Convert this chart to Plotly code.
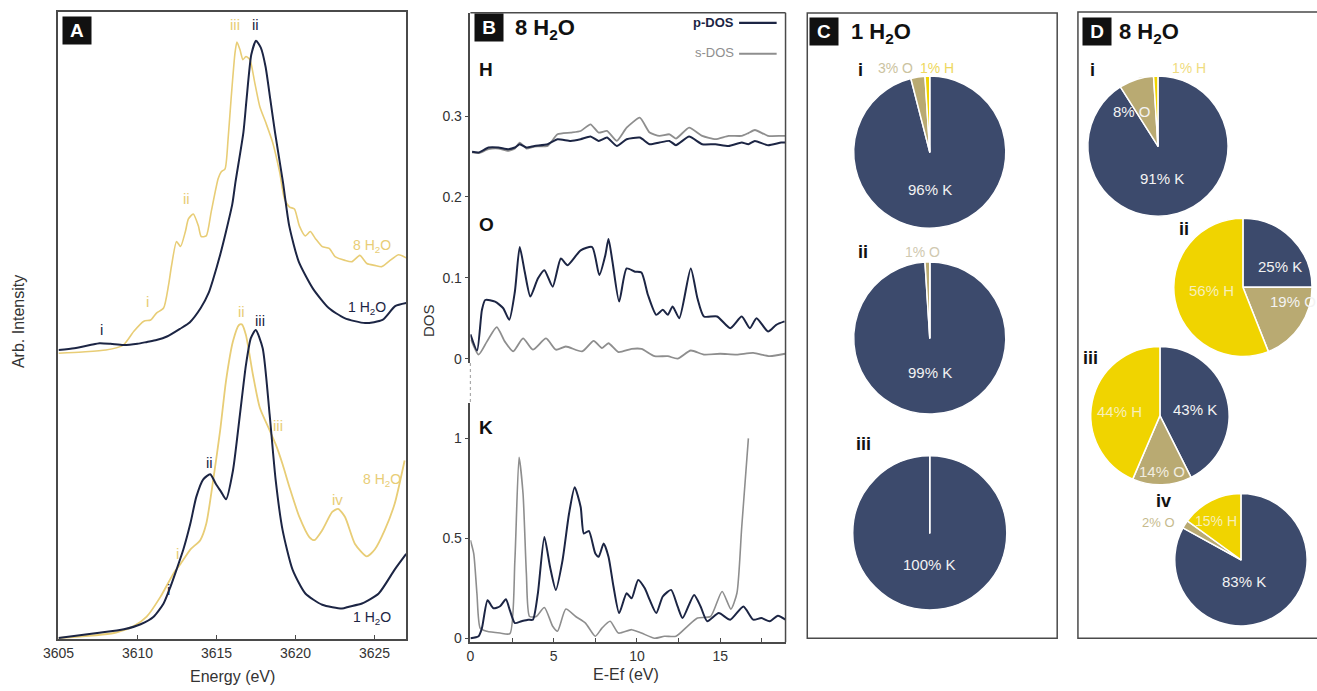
import plotly.graph_objects as go

W, H = 1317, 691

# ---------------- Panel A : K K-edge XAS (arb. units, offset curves) ----------------
energy_1h2o_top = [3605.0, 3606.0, 3607.0, 3607.6, 3608.3, 3609.1, 3610.0, 3610.6, 3611.2, 3611.9,
                   3612.7, 3613.3, 3614.0, 3614.5, 3614.8, 3615.2, 3615.6, 3616.0, 3616.2, 3616.7,
                   3616.9, 3617.2, 3617.5, 3617.8, 3618.1, 3618.4, 3618.7, 3619.2, 3619.6, 3620.2,
                   3621.1, 3622.1, 3623.1, 3624.4, 3625.5, 3626.3, 3627.0]
intens_1h2o_top = [0.461, 0.464, 0.469, 0.472, 0.471, 0.469, 0.471, 0.474, 0.477, 0.483,
                   0.495, 0.505, 0.528, 0.552, 0.575, 0.610, 0.650, 0.694, 0.729, 0.808,
                   0.861, 0.932, 0.954, 0.943, 0.913, 0.861, 0.808, 0.729, 0.659, 0.602,
                   0.559, 0.528, 0.512, 0.504, 0.509, 0.531, 0.536]

energy_8h2o_top = [3605.0, 3606.5, 3608.0, 3609.1, 3609.77, 3610.4, 3610.83, 3611.2, 3611.65, 3611.96,
                   3612.15, 3612.47, 3612.72, 3613.03, 3613.22, 3613.53, 3613.85, 3614.03, 3614.35, 3614.66,
                   3615.1, 3615.29, 3615.54, 3615.73, 3615.92, 3616.17, 3616.29, 3616.48, 3616.67, 3616.86,
                   3617.11, 3617.42, 3617.74, 3618.11, 3618.55, 3618.99, 3619.30, 3619.62, 3619.93, 3620.24,
                   3620.62, 3620.93, 3621.25, 3621.69, 3622.13, 3622.5, 3623.13, 3623.57, 3624.07, 3624.51,
                   3625.01, 3625.45, 3625.89, 3626.52, 3627.0]
intens_8h2o_top = [0.456, 0.458, 0.461, 0.469, 0.491, 0.507, 0.509, 0.520, 0.528, 0.564,
                   0.595, 0.634, 0.626, 0.650, 0.670, 0.678, 0.659, 0.642, 0.643, 0.681,
                   0.734, 0.745, 0.750, 0.797, 0.861, 0.935, 0.952, 0.940, 0.924, 0.929,
                   0.924, 0.887, 0.849, 0.824, 0.792, 0.745, 0.702, 0.689, 0.686, 0.659,
                   0.643, 0.650, 0.639, 0.626, 0.623, 0.610, 0.604, 0.602, 0.612, 0.599,
                   0.596, 0.594, 0.602, 0.613, 0.608]

energy_1h2o_bot = [3605.0, 3607.45, 3609.14, 3610.2, 3611.02, 3611.65, 3612.09, 3612.47, 3612.9, 3613.34,
                   3613.72, 3614.16, 3614.6, 3614.97, 3615.29, 3615.6, 3616.04, 3616.48, 3616.86, 3617.17,
                   3617.48, 3617.92, 3618.36, 3618.74, 3619.18, 3619.81, 3620.62, 3621.69, 3622.94, 3623.38,
                   3624.2, 3625.26, 3626.27, 3627.0]
intens_1h2o_bot = [0.002, 0.010, 0.016, 0.024, 0.036, 0.057, 0.084, 0.111, 0.143, 0.184,
                   0.227, 0.255, 0.263, 0.247, 0.235, 0.223, 0.269, 0.358, 0.437, 0.480,
                   0.493, 0.464, 0.358, 0.254, 0.174, 0.111, 0.073, 0.055, 0.049, 0.052,
                   0.057, 0.073, 0.111, 0.136]

energy_8h2o_bot = [3605.0, 3608.51, 3609.77, 3610.58, 3611.46, 3612.28, 3612.72, 3613.34, 3613.97, 3614.35,
                   3614.79, 3615.23, 3615.6, 3616.04, 3616.42, 3616.6, 3616.86, 3617.3, 3617.74, 3618.36,
                   3618.74, 3619.18, 3619.62, 3620.24, 3620.87, 3621.19, 3621.69, 3622.32, 3622.69, 3623.13,
                   3623.76, 3624.51, 3625.01, 3625.64, 3626.27, 3626.9]
intens_8h2o_bot = [0.002, 0.010, 0.021, 0.036, 0.068, 0.105, 0.120, 0.143, 0.158, 0.184,
                   0.254, 0.333, 0.412, 0.475, 0.501, 0.502, 0.485, 0.422, 0.369, 0.333,
                   0.311, 0.279, 0.242, 0.195, 0.163, 0.158, 0.174, 0.203, 0.208, 0.195,
                   0.152, 0.132, 0.143, 0.174, 0.216, 0.285]

energy_ticks = [3605, 3610, 3615, 3620, 3625]

# ---------------- Panel B : projected DOS, 8 H2O ----------------
e_H = [0.1, 0.49, 1.09, 1.68, 2.27, 2.67, 2.96, 3.36, 3.85, 4.64, 5.23, 6.02, 6.62, 7.21, 7.70,
       8.20, 8.79, 9.38, 10.17, 10.76, 11.35, 11.95, 12.34, 13.13, 13.92, 14.71, 15.5, 16.29, 16.69,
       17.08, 17.87, 18.66, 18.92]
H_pdos = [0.2558, 0.2550, 0.2611, 0.2611, 0.2591, 0.2611, 0.2652, 0.2611, 0.2631, 0.2652, 0.2714,
          0.2693, 0.2714, 0.2747, 0.2693, 0.2734, 0.2631, 0.2714, 0.2734, 0.2652, 0.2673, 0.2693,
          0.2640, 0.2747, 0.2652, 0.2652, 0.2631, 0.2673, 0.2652, 0.2693, 0.2640, 0.2673, 0.2673]
H_sdos = [0.2550, 0.2541, 0.2591, 0.2599, 0.2570, 0.2599, 0.2673, 0.2599, 0.2624, 0.2632, 0.2775,
          0.2796, 0.2816, 0.2898, 0.2796, 0.2816, 0.2693, 0.2857, 0.2980, 0.2796, 0.2755, 0.2775,
          0.2722, 0.2857, 0.2755, 0.2714, 0.2755, 0.2755, 0.2790, 0.2828, 0.2755, 0.2755, 0.2755]

e_O_p = [0.0, 0.4, 0.69, 0.89, 1.48, 1.97, 2.33, 2.67, 2.96, 3.26, 3.60, 4.05, 4.44, 4.94, 5.43,
         5.83, 6.62, 7.31, 7.74, 8.10, 8.29, 8.53, 8.93, 9.38, 9.88, 10.27, 10.66, 11.16, 11.55,
         11.85, 12.14, 12.54, 13.23, 13.63, 14.02, 14.81, 15.6, 16.29, 16.78, 17.18, 17.87, 18.36,
         18.86]
O_pdos = [0.030, 0.010, 0.060, 0.0725, 0.0705, 0.0623, 0.048, 0.083, 0.138, 0.1075, 0.0767,
          0.099, 0.1094, 0.089, 0.1238, 0.1156, 0.134, 0.138, 0.1033, 0.1279, 0.148, 0.1198,
          0.0705, 0.1115, 0.1075, 0.1066, 0.0787, 0.0541, 0.0603, 0.0541, 0.0644, 0.050, 0.1115,
          0.0746, 0.0521, 0.0521, 0.0377, 0.0521, 0.0377, 0.050, 0.0336, 0.0418, 0.046]
e_O_s = [0.04, 0.49, 0.99, 1.58, 2.07, 2.57, 3.16, 3.75, 4.54, 5.13, 5.73, 6.71, 7.4, 7.9, 8.29,
         8.89, 9.68, 10.27, 11.06, 11.85, 12.44, 13.23, 14.02, 15.0, 15.99, 16.98, 17.97, 18.9]
O_sdos = [0.0234, 0.005, 0.021, 0.039, 0.021, 0.009, 0.025, 0.011, 0.025, 0.011, 0.015, 0.009,
          0.022, 0.013, 0.019, 0.008, 0.012, 0.012, 0.003, 0.003, 0.0, 0.010, 0.005, 0.006, 0.005,
          0.007, 0.003, 0.006]

e_K_p = [0.0, 0.49, 0.69, 1.03, 1.38, 1.78, 2.13, 2.37, 2.67, 3.06, 3.46, 3.75, 4.05, 4.44, 4.78,
         5.13, 5.53, 5.92, 6.26, 6.62, 6.81, 7.11, 7.5, 7.7, 8.0, 8.29, 8.59, 8.93, 9.38, 9.68,
         10.07, 10.47, 10.76, 11.16, 11.55, 12.05, 12.44, 12.74, 13.43, 13.82, 14.22, 14.91, 15.6,
         16.39, 16.98, 17.47, 17.97, 18.46, 18.92]
K_pdos = [0.0, 0.01, 0.05, 0.19, 0.15, 0.16, 0.195, 0.14, 0.076, 0.085, 0.093, 0.093, 0.225, 0.507,
          0.358, 0.242, 0.39, 0.623, 0.756, 0.657, 0.524, 0.537, 0.424, 0.408, 0.474, 0.408, 0.259,
          0.126, 0.225, 0.200, 0.292, 0.250, 0.193, 0.126, 0.209, 0.242, 0.159, 0.101, 0.217, 0.159,
          0.085, 0.126, 0.093, 0.159, 0.093, 0.101, 0.085, 0.113, 0.093]
e_K_s = [0.0, 0.2, 0.39, 0.59, 0.99, 1.78, 2.37, 2.67, 2.92, 3.16, 3.36, 3.55, 3.95, 4.44, 4.94,
         5.23, 5.73, 6.32, 6.91, 7.5, 7.9, 8.39, 8.89, 9.68, 10.27, 11.06, 11.65, 12.34, 13.03,
         13.63, 14.42, 15.11, 15.64, 16.0, 16.29, 16.69]
K_sdos = [0.491, 0.424, 0.225, 0.050, 0.035, 0.026, 0.023, 0.390, 0.905, 0.723, 0.325, 0.109,
          0.109, 0.154, 0.060, 0.035, 0.146, 0.109, 0.076, 0.010, 0.051, 0.085, 0.026, 0.043,
          0.026, 0.0, 0.010, 0.010, 0.060, 0.101, 0.109, 0.234, 0.146, 0.225, 0.557, 1.0]

# ---------------- Panels C, D : atomic contributions (%) ----------------
elements = ["K", "O", "H"]
c_i = [96, 3, 1]
c_ii = [99, 1, 0]
c_iii = [100, 0, 0]
d_i = [91, 8, 1]
d_ii = [25, 19, 56]
d_iii = [43, 14, 44]
d_iv = [83, 2, 15]

# ---------------- styling ----------------
NAVY = "#1c2544"
GOLD = "#e8cd76"
GRAY = "#8e8e8e"
PIE_COL = {"K": "#3c4a6c", "O": "#b9aa72", "H": "#f0d400"}
FONT = "Liberation Sans, Arial, sans-serif"
FRAME = "#4a4a4a"


def px(x):
    return x / W


def py(y):
    return 1 - y / H


fig = go.Figure()

# Panel A traces
for e, v, c, w in [(energy_8h2o_top, intens_8h2o_top, GOLD, 1.6),
                   (energy_1h2o_top, intens_1h2o_top, NAVY, 2.0),
                   (energy_8h2o_bot, intens_8h2o_bot, GOLD, 1.8),
                   (energy_1h2o_bot, intens_1h2o_bot, NAVY, 2.0)]:
    fig.add_trace(go.Scatter(x=e, y=v, mode="lines", line=dict(color=c, width=w, shape="spline", smoothing=0.6),
                             xaxis="x", yaxis="y", showlegend=False, hoverinfo="skip"))

# Panel B traces
fig.add_trace(go.Scatter(x=e_H, y=H_sdos, mode="lines", line=dict(color=GRAY, width=1.8, shape="spline", smoothing=0.5),
                         xaxis="x2", yaxis="y2", showlegend=False))
fig.add_trace(go.Scatter(x=e_H, y=H_pdos, mode="lines", line=dict(color=NAVY, width=2, shape="spline", smoothing=0.5),
                         xaxis="x2", yaxis="y2", showlegend=False))
fig.add_trace(go.Scatter(x=e_O_s, y=O_sdos, mode="lines", line=dict(color=GRAY, width=1.8, shape="spline", smoothing=0.6),
                         xaxis="x2", yaxis="y2", showlegend=False))
fig.add_trace(go.Scatter(x=e_O_p, y=O_pdos, mode="lines", line=dict(color=NAVY, width=2, shape="spline", smoothing=0.6),
                         xaxis="x2", yaxis="y2", showlegend=False))
fig.add_trace(go.Scatter(x=e_K_s, y=K_sdos, mode="lines", line=dict(color=GRAY, width=1.6, shape="spline", smoothing=0.6),
                         xaxis="x3", yaxis="y3", showlegend=False))
fig.add_trace(go.Scatter(x=e_K_p, y=K_pdos, mode="lines", line=dict(color=NAVY, width=2, shape="spline", smoothing=0.6),
                         xaxis="x3", yaxis="y3", showlegend=False))

# Pies
pie_specs = [(c_i, 925, 153, 77), (c_ii, 925, 340, 77), (c_iii, 925, 536, 78),
             (d_i, 1156, 147, 71), (d_ii, 1242, 289, 70), (d_iii, 1158, 418, 70), (d_iv, 1240, 563, 67)]
for vals, cx, cy, r in pie_specs:
    fig.add_trace(go.Pie(values=vals, labels=elements, sort=False, direction="clockwise", rotation=0,
                         marker=dict(colors=[PIE_COL[e] for e in elements], line=dict(color="white", width=1.5)),
                         textinfo="none", hoverinfo="skip", showlegend=False,
                         domain=dict(x=[px(cx - r), px(cx + r)], y=[py(cy + r), py(cy - r)])))

axis_common = dict(showgrid=False, zeroline=False)
tickfont = dict(family=FONT, size=14, color="#333")

fig.update_layout(
    width=W, height=H, margin=dict(l=0, r=0, t=0, b=0),
    paper_bgcolor="white", plot_bgcolor="white",
    xaxis=dict(domain=[px(43), px(395)], range=[3605, 3627], tickvals=energy_ticks,
               ticks="inside", ticklen=5, tickcolor=FRAME, showline=True, mirror=True, linecolor=FRAME,
               linewidth=1.5, tickfont=tickfont, anchor="y", **axis_common),
    yaxis=dict(domain=[py(643), py(12)], range=[0, 1], showticklabels=False, ticks="",
               showline=True, mirror=True, linecolor=FRAME, linewidth=1.5, anchor="x", **axis_common),
    xaxis2=dict(domain=[px(460), px(779)], range=[0, 18.92], visible=False, anchor="y2", **axis_common),
    yaxis2=dict(domain=[py(365), py(12.7)], range=[-0.0053, 0.428], tickvals=[0, 0.1, 0.2, 0.3],
                ticktext=["0", "0.1", "0.2", "0.3"], ticks="outside", ticklen=4, tickcolor=FRAME,
                showline=True, linecolor=FRAME, linewidth=1.5, tickfont=tickfont, anchor="x2", **axis_common),
    xaxis3=dict(domain=[px(460), px(779)], range=[0, 18.92], tickvals=[0, 5, 10, 15], ticks="inside",
                ticklen=5, tickcolor=FRAME, minor=dict(dtick=2.5, ticks="inside", ticklen=5, tickcolor=FRAME),
                showline=True, linecolor=FRAME, linewidth=1.5, tickfont=tickfont, anchor="y3", **axis_common),
    yaxis3=dict(domain=[py(646), py(405)], range=[-0.02, 1.179], tickvals=[0, 0.5, 1],
                ticktext=["0", "0.5", "1"], ticks="outside", ticklen=4, tickcolor=FRAME,
                showline=True, linecolor=FRAME, linewidth=1.5, tickfont=tickfont, anchor="x3", **axis_common),
)

shapes = []
# Panel B frame parts
shapes.append(dict(type="line", xref="paper", yref="paper", x0=px(460), x1=px(779), y0=py(12.7), y1=py(12.7),
                   line=dict(color=FRAME, width=1.5)))
shapes.append(dict(type="line", xref="paper", yref="paper", x0=px(779), x1=px(779), y0=py(12.7), y1=py(646),
                   line=dict(color=FRAME, width=1.5)))
shapes.append(dict(type="line", xref="paper", yref="paper", x0=px(460), x1=px(460), y0=py(365), y1=py(405),
                   line=dict(color="#aaa", width=1.2, dash="dot")))
# Panel B legend keys
shapes.append(dict(type="line", xref="paper", yref="paper", x0=px(732), x1=px(770), y0=py(23), y1=py(23),
                   line=dict(color=NAVY, width=2.2)))
shapes.append(dict(type="line", xref="paper", yref="paper", x0=px(732), x1=px(770), y0=py(54), y1=py(54),
                   line=dict(color=GRAY, width=2)))
# Panels C, D frames
shapes.append(dict(type="rect", xref="paper", yref="paper", x0=px(801), x1=px(1054), y0=py(642), y1=py(13),
                   line=dict(color=FRAME, width=1.5)))
shapes.append(dict(type="rect", xref="paper", yref="paper", x0=px(1075), x1=px(1330), y0=py(642), y1=py(12),
                   line=dict(color=FRAME, width=1.5)))
fig.update_layout(shapes=shapes)

ann = []


def label(text, x, y, color="#111", size=14, xanchor="center", angle=0):
    ann.append(dict(text=text, x=px(x), y=py(y), xref="paper", yref="paper", showarrow=False,
                    xanchor=xanchor, yanchor="middle", textangle=angle,
                    font=dict(family=FONT, size=size, color=color)))


def box(letter, x, y):
    ann.append(dict(text="<b>%s</b>" % letter, x=px(x), y=py(y), xref="paper", yref="paper", showarrow=False,
                    xanchor="center", yanchor="middle", bgcolor="#111", width=26, height=25,
                    font=dict(family=FONT, size=19, color="white")))


# Panel A labels
box("A", 62, 31)
label("ii", 242, 25, NAVY, 15)
label("iii", 222, 25, GOLD, 15)
label("ii", 173, 200, GOLD, 15)
label("i", 133, 303, GOLD, 15)
label("i", 87, 331, NAVY, 15)
label("8 H<sub>2</sub>O", 360, 247, GOLD, 14)
label("1 H<sub>2</sub>O", 355, 310, NAVY, 14)
label("ii", 228, 313, GOLD, 15)
label("iii", 247, 322, NAVY, 15)
label("ii", 196, 465, NAVY, 15)
label("iii", 265, 428, GOLD, 15)
label("8 H<sub>2</sub>O", 370, 483, GOLD, 14)
label("iv", 325, 502, GOLD, 15)
label("i", 163, 557, GOLD, 15)
label("i", 154, 593, NAVY, 15)
label("1 H<sub>2</sub>O", 360, 622, NAVY, 14)
label("Arb. Intensity", 2, 323, "#333", 16, angle=-90)
label("Energy (eV)", 219, 680, "#333", 16)

# Panel B labels
box("B", 479, 28)
label("<b>8 H<sub>2</sub>O</b>", 503, 29, "#111", 22, xanchor="left")
label("<b>H</b>", 476, 70, "#111", 19)
label("<b>O</b>", 476, 226, "#111", 19)
label("<b>K</b>", 476, 430, "#111", 19)
label("<b>p-DOS</b>", 729, 23, NAVY, 13, xanchor="right")
label("s-DOS", 729, 53, GRAY, 13, xanchor="right")
label("DOS", 417, 322, "#333", 15, angle=-90)
label("E-Ef (eV)", 618, 678, "#333", 16)

# Panel C labels
WHITE = "#f3f3f3"
box("C", 818, 32)
label("<b>1 H<sub>2</sub>O</b>", 843, 33, "#111", 22, xanchor="left")
label("<b>i</b>", 855, 70, "#111", 18)
label("<b>ii</b>", 857, 253, "#111", 18)
label("<b>iii</b>", 858, 447, "#111", 18)
label("3% O", 890, 68, "#cbc3a0", 14)
label("1% H", 932, 68, "#eed860", 14)
label("96% K", 925, 191, WHITE, 15)
label("1% O", 918, 253, "#d0c9b0", 14)
label("99% K", 925, 375, WHITE, 15)
label("100% K", 925, 568, WHITE, 15)

# Panel D labels
box("D", 1094, 32)
label("<b>8 H<sub>2</sub>O</b>", 1115, 33, "#111", 22, xanchor="left")
label("<b>i</b>", 1090, 70, "#111", 18)
label("1% H", 1187, 68, "#efdc80", 14)
label("8% O", 1130, 112, WHITE, 15)
label("91% K", 1160, 180, WHITE, 15)
label("<b>ii</b>", 1182, 230, "#111", 18)
label("25% K", 1280, 268, WHITE, 15)
label("56% H", 1210, 292, "#f7efb8", 15)
label("19% O", 1293, 303, WHITE, 15)
label("<b>iii</b>", 1088, 360, "#111", 18)
label("44% H", 1117, 414, "#f7efb8", 15)
label("43% K", 1193, 412, WHITE, 15)
label("14% O", 1160, 474, "#f1ede0", 15)
label("<b>iv</b>", 1162, 504, "#111", 18)
label("2% O", 1157, 526, "#c6ba8c", 13)
label("15% H", 1215, 524, "#f7efb8", 14)
label("83% K", 1243, 585, WHITE, 15)

fig.update_layout(annotations=ann)

fig.write_html("out.html")
